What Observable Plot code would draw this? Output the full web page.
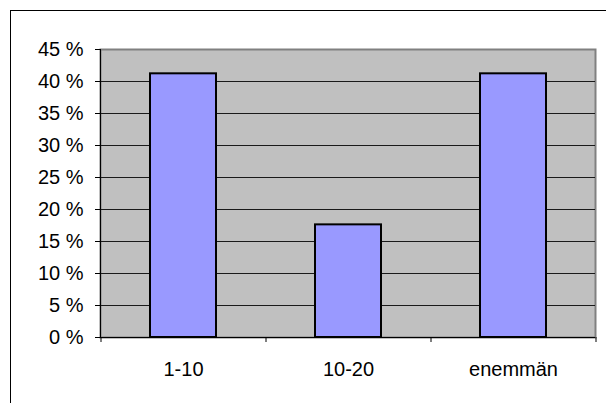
<!DOCTYPE html>
<html>
<head>
<meta charset="utf-8">
<script src="https://cdn.jsdelivr.net/npm/d3@7"></script>
<script src="https://cdn.jsdelivr.net/npm/@observablehq/plot@0.6"></script>
<style>
  html, body { margin: 0; padding: 0; background: #fff; overflow: hidden; }
  #wrap { position: relative; width: 606px; height: 403px; }
  #border {
    position: absolute; left: 10px; top: 10px; width: 700px; height: 500px;
    border-left: 1px solid #000; border-top: 1px solid #000; pointer-events: none;
  }
  svg { display: block; }
</style>
</head>
<body>
<div id="wrap"><div id="border"></div></div>
<script>
// Share of answers per group (percent)
const categories = ["1-10", "10-20", "enemmän"];
const shares = [41.2, 17.6, 41.2];
const yTicks = [0, 5, 10, 15, 20, 25, 30, 35, 40, 45];

const data = categories.map((c, i) => ({category: c, share: shares[i]}));
const font = "'Liberation Sans', Arial, Helvetica, sans-serif";

const chart = Plot.plot({
  width: 606,
  height: 403,
  marginLeft: 100,
  marginRight: 11,
  marginTop: 49,
  marginBottom: 66,
  style: {fontFamily: font, fontSize: "20px", color: "#000", background: "transparent"},
  x: {domain: categories, paddingInner: 0.6, paddingOuter: 0.3, label: null},
  y: {domain: [0, 45], label: null},
  marks: [
    Plot.frame({fill: "#c0c0c0"}),
    Plot.frame({stroke: "#808080", strokeWidth: 2}),
    Plot.ruleY(yTicks.filter(d => d > 0 && d < 45), {stroke: "#1a1a1a", strokeWidth: 1}),
    Plot.barY(data, {x: "category", y: "share", fill: "#9999ff", stroke: "#000", strokeWidth: 2}),
    Plot.ruleY([0], {stroke: "#000", strokeWidth: 1}),
    Plot.frame({anchor: "left", stroke: "#000", strokeWidth: 1}),
    Plot.axisY({ticks: yTicks, tickSize: 5, tickPadding: 12, tickFormat: d => `${d} %`, fontSize: 20, label: null}),
    // category boundary ticks below the axis
    Plot.axisX({tickSize: 5, text: null, dx: -82.5, label: null}),
    Plot.axisX({ticks: [categories[categories.length - 1]], tickSize: 5, text: null, dx: 82.5, label: null}),
    Plot.axisX({tickSize: 0, tickPadding: 24, fontSize: 20, label: null})
  ]
});

document.getElementById("wrap").appendChild(chart);
</script>
</body>
</html>
